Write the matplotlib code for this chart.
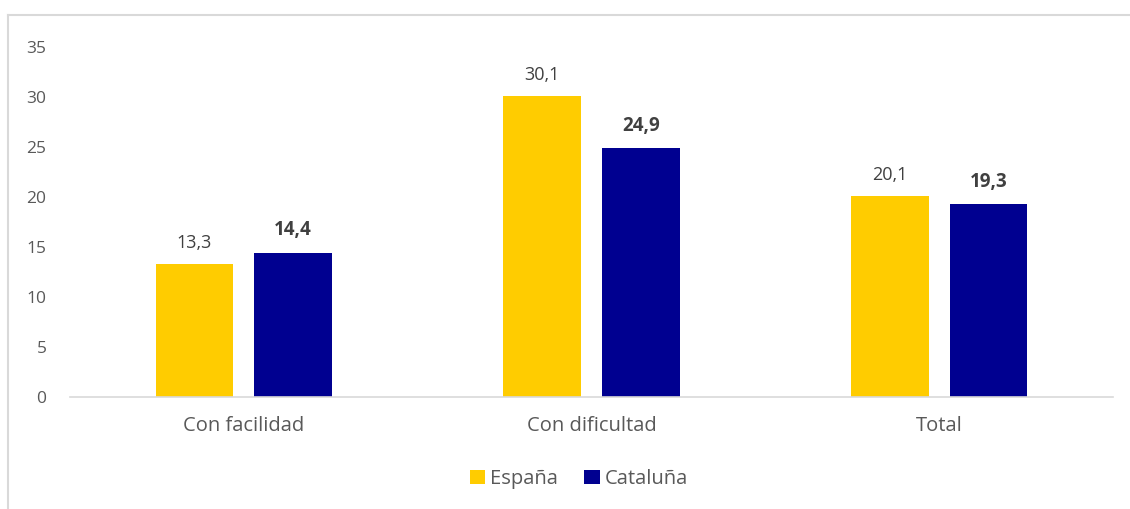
import matplotlib
matplotlib.use("Agg")
import matplotlib.pyplot as plt
from matplotlib.lines import Line2D
import numpy as np

categories = ["Con facilidad", "Con dificultad", "Total"]
espana = [13.3, 30.1, 20.1]
cataluna = [14.4, 24.9, 19.3]
series_names = ["España", "Cataluña"]
colors = ["#FFCC00", "#000090"]

plt.rcParams['font.family'] = ['Open Sans', 'DejaVu Sans']

fig = plt.figure(figsize=(11.3, 5.09), dpi=100)
ax = fig.add_axes([70/1130, 112/509, 1043/1130, 350/509])

x = np.arange(len(categories))
w = 0.224
off = 0.142
b1 = ax.bar(x - off, espana, w, color=colors[0], label=series_names[0])
b2 = ax.bar(x + off, cataluna, w, color=colors[1], label=series_names[1])

for rect, v in zip(b1, espana):
    ax.annotate(f"{v:.1f}".replace(".", ","), (rect.get_x() + rect.get_width()/2, v),
                xytext=(0, 9), textcoords="offset points", ha="center", va="bottom",
                fontsize=13, color="#404040")
for rect, v in zip(b2, cataluna):
    ax.annotate(f"{v:.1f}".replace(".", ","), (rect.get_x() + rect.get_width()/2, v),
                xytext=(0, 9), textcoords="offset points", ha="center", va="bottom",
                fontsize=13.5, color="#404040", fontweight="bold")

ax.set_xlim(-0.5, 2.5)
ax.set_ylim(0, 35)
ax.set_yticks(range(0, 36, 5))
ax.set_xticks(x)
ax.set_xticklabels(categories, fontsize=14.5, color="#595959")
ax.tick_params(axis="y", length=0, labelsize=12.5, labelcolor="#595959", pad=17)
ax.tick_params(axis="x", length=0, pad=14)
for s in ["top", "right", "left"]:
    ax.spines[s].set_visible(False)
ax.spines["bottom"].set_color("#d9d9d9")
ax.spines["bottom"].set_linewidth(1.2)

fig.legend(handles=[b1, b2], labels=series_names, loc="center", bbox_to_anchor=(579/1130, 1 - 479/509),
           ncol=2, frameon=False, fontsize=14.5, labelcolor="#595959",
           handlelength=0.75, handleheight=0.75, handletextpad=0.25, columnspacing=1.3)

# outer chart frame (only top and left edges visible in the crop)
fig.add_artist(Line2D([8/1130, 1], [1 - 15/509, 1 - 15/509], color="#d9d9d9", lw=1.5, transform=fig.transFigure))
fig.add_artist(Line2D([8/1130, 8/1130], [0, 1 - 15/509], color="#d9d9d9", lw=1.5, transform=fig.transFigure))

fig.savefig("out.png", dpi=100)
